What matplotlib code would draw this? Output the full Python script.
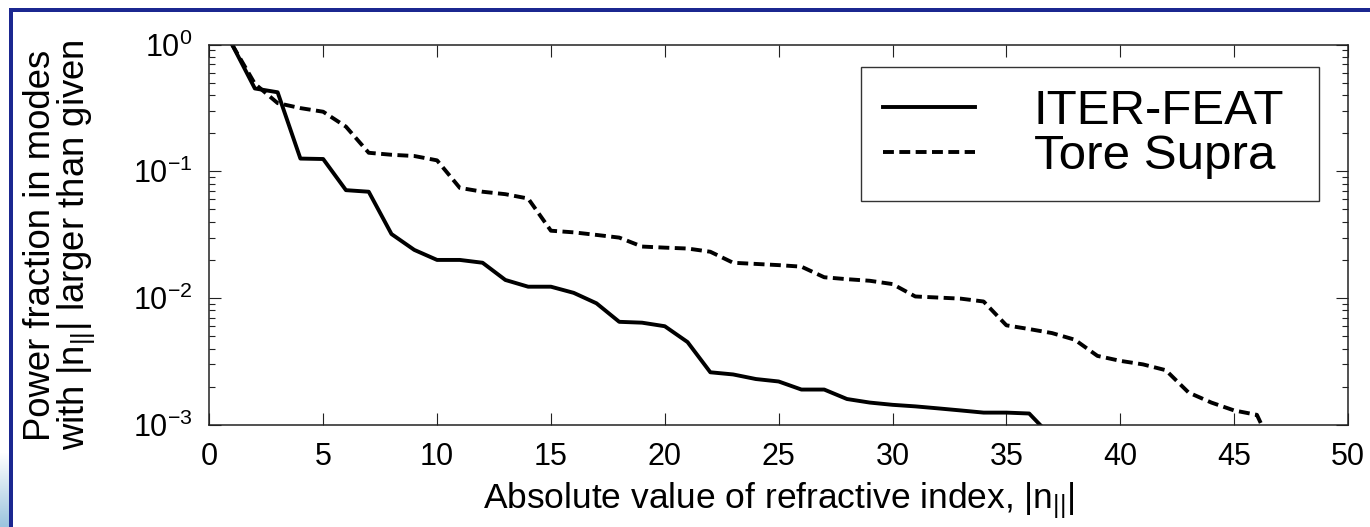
import numpy as np
import matplotlib
matplotlib.use("Agg")
import matplotlib.pyplot as plt
from matplotlib.patches import Rectangle

plt.rcParams["font.family"] = ["Liberation Sans", "DejaVu Sans"]
plt.rcParams["mathtext.fontset"] = "custom"
plt.rcParams["mathtext.rm"] = "Liberation Sans"
plt.rcParams["mathtext.it"] = "Liberation Sans:italic"
plt.rcParams["mathtext.default"] = "regular"

# |n_par| values and power fraction above them
n_iter = [1, 2, 3, 4, 5, 6, 7, 8, 9, 10, 11, 12, 13, 14, 15, 16, 17, 18, 19,
          20, 21, 22, 23, 24, 25, 26, 27, 28, 29, 30, 31, 32, 33, 34, 35, 36, 37]
p_iter = [1.0, 0.45, 0.42, 0.126, 0.125, 0.071, 0.069, 0.032, 0.024, 0.020,
          0.020, 0.019, 0.0139, 0.0123, 0.0123, 0.011, 0.0091, 0.0065, 0.0064,
          0.0060, 0.0045, 0.0026, 0.0025, 0.0023, 0.0022, 0.0019, 0.0019,
          0.0016, 0.0015, 0.00144, 0.0014, 0.00135, 0.0013, 0.00125, 0.00125,
          0.00123, 0.0008]

n_tore = list(range(1, 48))
p_tore = [1.0, 0.49, 0.345, 0.315, 0.295, 0.225, 0.14, 0.135, 0.132, 0.122,
          0.074, 0.069, 0.066, 0.061, 0.034, 0.033, 0.0315, 0.030, 0.0255,
          0.025, 0.0246, 0.0232, 0.019, 0.0186, 0.0182, 0.0177, 0.0146, 0.0141,
          0.0137, 0.0129, 0.0103, 0.0101, 0.0099, 0.0094, 0.0061, 0.0057,
          0.0053, 0.0047, 0.0035, 0.0032, 0.0030, 0.0027, 0.0018, 0.0015,
          0.0013, 0.0012, 0.0005]

x_ticks = [0, 5, 10, 15, 20, 25, 30, 35, 40, 45, 50]

W, H = 1370, 527
ax_l, ax_r, ax_t, ax_b = 209.3, 1348, 44.5, 424.9
fig = plt.figure(figsize=(W / 100, H / 100), dpi=100)
ax = fig.add_axes([ax_l / W, 1 - ax_b / H, (ax_r - ax_l) / W, (ax_b - ax_t) / H])

ax.plot(n_iter, p_iter, color="black", lw=2.8, label="ITER-FEAT")
ax.plot(n_tore, p_tore, color="black", lw=2.8, linestyle=(0, (2.8, 1.4)),
        label="Tore Supra")

ax.set_yscale("log")
ax.set_xlim(0, 50)
ax.set_ylim(1e-3, 1)
ax.set_xticks(x_ticks)

ax.tick_params(which="both", direction="in", top=True, right=True,
               width=0.8, color="#222222")
ax.tick_params(which="major", length=8.5, labelsize=22)
ax.tick_params(which="minor", length=4.2)
ax.tick_params(axis="x", which="major", pad=12)
ax.tick_params(axis="y", which="major", pad=12)
for s in ax.spines.values():
    s.set_linewidth(1.1)
    s.set_color("#222222")

ax.set_xlabel(r"Absolute value of refractive index, $|n_{||}|$", fontsize=25.5)
ax.xaxis.set_label_coords(0.5, -0.145)
ax.xaxis.label.set_va("top")
ax.set_ylabel("Power fraction in modes\n" + r"with $|n_{||}|$ larger than given",
              fontsize=26.3, linespacing=0.9)
ax.yaxis.set_label_coords((97 - ax_l) / (ax_r - ax_l), 0.473)

# legend box spans x 861..1319 px, top at 67 px
lx0 = (861 - ax_l) / (ax_r - ax_l)
lw_ = (1319 - 861) / (ax_r - ax_l)
ltop = 1 - (67 - ax_t) / (ax_b - ax_t)
leg = ax.legend(loc="upper left", bbox_to_anchor=(lx0, ltop - 0.5, lw_, 0.5),
                mode="expand", borderaxespad=0, fontsize=35.5,
                handlelength=1.87, handletextpad=1.18, borderpad=0.45,
                labelspacing=0.0, fancybox=False, framealpha=1)
leg.get_frame().set_edgecolor("#333333")
leg.get_frame().set_linewidth(1.0)

# slide frame: blue top and left bars, pale gradient in the lower-left corner
blue = "#1b2790"
fig.add_artist(Rectangle((9 / W, 1 - 12 / H), 1, 4 / H, transform=fig.transFigure,
                         color=blue, lw=0))
fig.add_artist(Rectangle((9 / W, 0), 4 / W, 1 - 8 / H, transform=fig.transFigure,
                         color=blue, lw=0))
gax = fig.add_axes([0, 0, 9 / W, 75 / H])
grad = np.linspace(0, 1, 64).reshape(-1, 1)
gax.imshow(grad, aspect="auto", cmap=matplotlib.colors.LinearSegmentedColormap.from_list(
    "g", ["#ffffff", "#9cc4de"]), origin="upper")
gax.axis("off")

fig.savefig("out.png", dpi=100)
